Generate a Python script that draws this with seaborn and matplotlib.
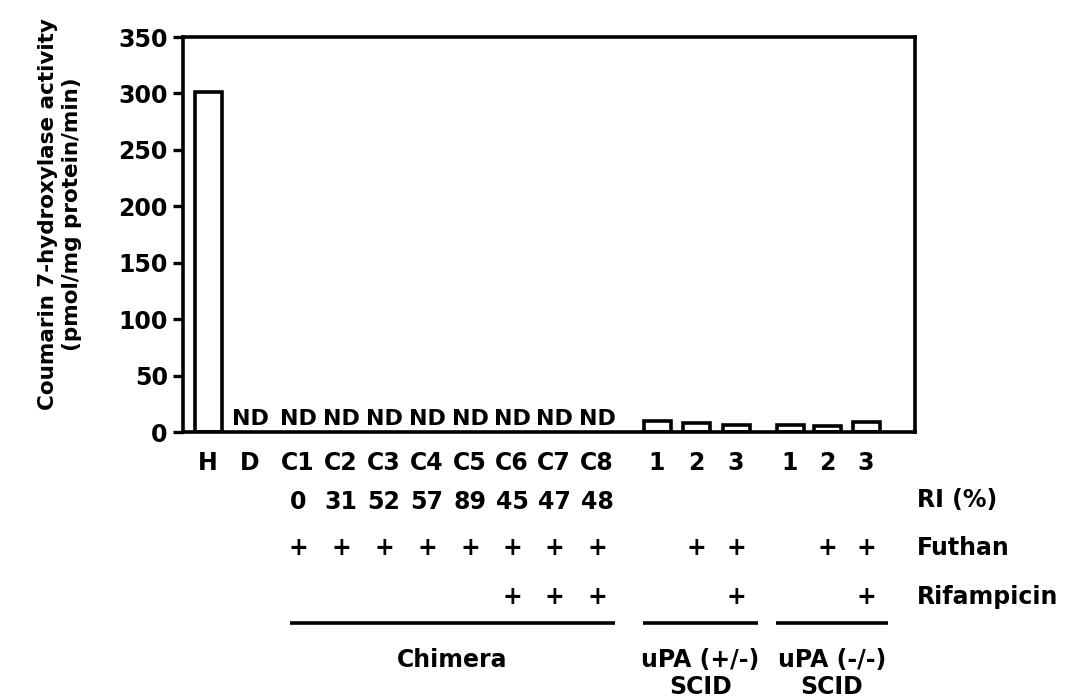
import numpy as np
import pandas as pd
import matplotlib
matplotlib.use("Agg")
import matplotlib.pyplot as plt
import matplotlib.transforms as mtransforms
import seaborn as sns

# ---------------- data ----------------
lane_labels = ["H", "D", "C1", "C2", "C3", "C4", "C5", "C6", "C7", "C8",
               "1", "2", "3", "1", "2", "3"]
activity = [301, np.nan, np.nan, np.nan, np.nan, np.nan, np.nan, np.nan,
            np.nan, np.nan, 10, 8, 6, 6, 5, 9]          # NaN = not detected (ND)
ri_percent = ["", "", "0", "31", "52", "57", "89", "45", "47", "48",
              "", "", "", "", "", ""]
futhan = ["", "", "+", "+", "+", "+", "+", "+", "+", "+",
          "", "+", "+", "", "+", "+"]
rifampicin = ["", "", "", "", "", "", "", "+", "+", "+",
              "", "", "+", "", "", "+"]
group_names = [["Chimera"], ["uPA (+/-)", "SCID"], ["uPA (-/-)", "SCID"]]
group_members = [(2, 9), (10, 12), (13, 15)]
row_titles = ["RI (%)", "Futhan", "Rifampicin"]
yticks = [0, 50, 100, 150, 200, 250, 300, 350]

# ---------------- layout (pixel positions of lanes) ----------------
W, H = 1066, 699
lane_x = [208, 250, 298, 341, 384, 427, 470, 512, 554, 597,
          657, 696, 736, 790, 827, 866]
ax_left, ax_right, ax_top, ax_bottom = 183, 915, 37, 432

sns.set_theme(style="white")
plt.rcParams["font.family"] = ["DejaVu Sans"]
plt.rcParams["font.weight"] = "bold"
plt.rcParams["text.color"] = "black"
plt.rcParams["axes.labelcolor"] = "black"
plt.rcParams["xtick.color"] = "black"
plt.rcParams["ytick.color"] = "black"

fig = plt.figure(figsize=(W / 100, H / 100), dpi=100)
ax = fig.add_axes([ax_left / W, 1 - ax_bottom / H,
                   (ax_right - ax_left) / W, (ax_bottom - ax_top) / H])

df = pd.DataFrame({"x": lane_x, "label": lane_labels, "value": activity})
meas = df.dropna(subset=["value"])
min_gap = np.min(np.diff(np.sort(meas["x"].values)))
bar_px = 27
sns.barplot(data=meas, x="x", y="value", native_scale=True, errorbar=None,
            width=bar_px / min_gap, color="white", edgecolor="black",
            linewidth=2.6, ax=ax, saturation=1)

fs = 17
ax.set_xlim(ax_left, ax_right)
ax.set_ylim(0, 350)
ax.set_yticks(yticks)
ax.set_yticklabels([str(t) for t in yticks], fontsize=fs, fontweight="bold",
                   color="black")
ax.set_xticks([])
ax.set_xlabel("")
ax.set_ylabel("")
for s in ax.spines.values():
    s.set_visible(True)
    s.set_color("black")
    s.set_linewidth(2.6)
ax.tick_params(axis="y", direction="out", length=7, width=2.4, pad=4,
               left=True, colors="black")

# ND labels
for x, lab, v in zip(lane_x, lane_labels, activity):
    if np.isnan(v):
        ax.text(x, 3, "ND", ha="center", va="bottom", fontsize=16,
                fontweight="bold", color="black")

trans = mtransforms.blended_transform_factory(ax.transData, fig.transFigure)

def fy(p):
    return 1 - p / H

for x, lab, ri, fu, rf in zip(lane_x, lane_labels, ri_percent, futhan, rifampicin):
    ax.text(x, fy(463), lab, transform=trans, ha="center", va="center",
            fontsize=fs, fontweight="bold", clip_on=False, color="black")
    if ri:
        ax.text(x, fy(502), ri, transform=trans, ha="center", va="center",
                fontsize=fs, fontweight="bold", clip_on=False, color="black")
    if fu:
        ax.text(x, fy(548), fu, transform=trans, ha="center", va="center",
                fontsize=fs, fontweight="bold", clip_on=False, color="black")
    if rf:
        ax.text(x, fy(597), rf, transform=trans, ha="center", va="center",
                fontsize=fs, fontweight="bold", clip_on=False, color="black")

for t, yp in zip(row_titles, [500, 548, 597]):
    fig.text(917 / W, fy(yp), t, ha="left", va="center", fontsize=fs,
             fontweight="bold", color="black")

# group underlines and names
for name, (i0, i1) in zip(group_names, group_members):
    x0 = lane_x[i0] - 14
    x1 = lane_x[i1] + 22
    if name[0] == "Chimera":
        x0, x1 = 290, 615
    ax.plot([x0, x1], [fy(623), fy(623)], transform=trans, color="black",
            lw=2.6, clip_on=False, solid_capstyle="butt")
    for k, line in enumerate(name):
        ax.text((x0 + x1) / 2, fy(660 + 27 * k), line, transform=trans,
                ha="center", va="center", fontsize=fs, fontweight="bold",
                clip_on=False, color="black")

# y label
fig.text(60 / W, fy(214), "Coumarin 7-hydroxylase activity\n(pmol/mg protein/min)",
         rotation=90, ha="center", va="center", fontsize=15.5, fontweight="bold",
         linespacing=1.2, multialignment="center", color="black")

fig.savefig("out.png", dpi=100, facecolor="white")
